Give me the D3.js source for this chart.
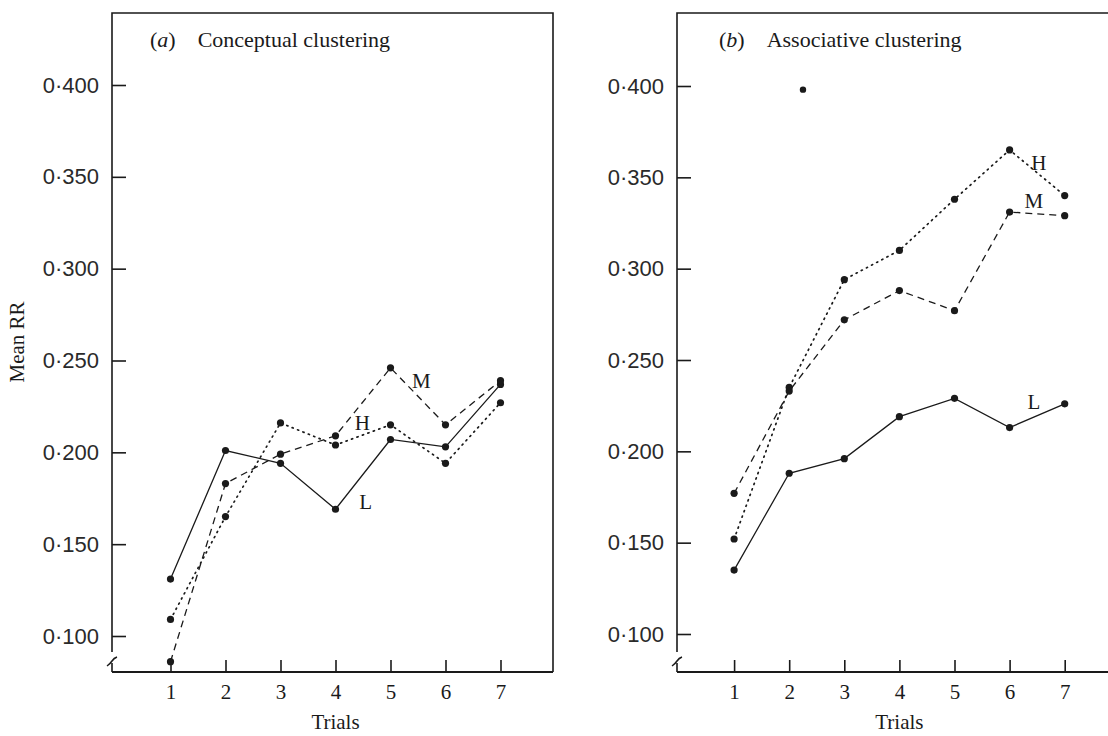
<!DOCTYPE html>
<html>
  <head>
    <title>Mean RR by trial</title>
    <meta charset="UTF-8" />
    <style>
      body { margin: 0; background: #fff; }
      .tick line { stroke: #1a1a1a; stroke-width: 1.6; }
    </style>
  </head>
  <body>
    <script src="https://cdn.jsdelivr.net/npm/d3@7"></script>
    <script>
      // trial numbers and the tick values of the mean RR axis
      var trials = [1, 2, 3, 4, 5, 6, 7];
      var yTicks = [0.100, 0.150, 0.200, 0.250, 0.300, 0.350, 0.400];

      // (a) conceptual clustering
      var conceptualL = [0.131, 0.201, 0.194, 0.169, 0.207, 0.203, 0.237];
      var conceptualM = [0.086, 0.183, 0.199, 0.209, 0.246, 0.215, 0.239];
      var conceptualH = [0.109, 0.165, 0.216, 0.204, 0.215, 0.194, 0.227];

      // (b) associative clustering
      var associativeL = [0.135, 0.188, 0.196, 0.219, 0.229, 0.213, 0.226];
      var associativeM = [0.177, 0.233, 0.272, 0.288, 0.277, 0.331, 0.329];
      var associativeH = [0.152, 0.235, 0.294, 0.310, 0.338, 0.365, 0.340];

      // a lone dot printed in panel (b)
      var associativeStray = [{ trial: 2.25, value: 0.398 }];

      // where the letters L, M, H sit (trial, value)
      var conceptualLabels = [
        { text: "M", trial: 5.56, value: 0.239 },
        { text: "H", trial: 4.49, value: 0.216 },
        { text: "L", trial: 4.55, value: 0.173 }
      ];
      var associativeLabels = [
        { text: "H", trial: 6.53, value: 0.358 },
        { text: "M", trial: 6.44, value: 0.337 },
        { text: "L", trial: 6.44, value: 0.227 }
      ];

      var ink = "#1a1a1a";
      var serif = "'Liberation Serif', 'Times New Roman', serif";
      var sans = "'Liberation Sans', Arial, sans-serif";

      var styles = {
        L: { dash: null, width: 1.3 },
        M: { dash: "7,5", width: 1.3 },
        H: { dash: "1.2,4.6", width: 1.7 }
      };

      var svg = d3.select("body")
                .append("svg")
                .attr("width", 1108)
                .attr("height", 736);

      // y label, shared by both panels
      svg.append("text")
        .attr("transform", "translate(24,342) rotate(-90)")
        .attr("text-anchor", "middle")
        .attr("font-family", serif)
        .attr("font-size", "21px")
        .attr("fill", ink)
        .text("Mean RR");

      function drawPanel(p) {
        var x = d3.scaleLinear().domain([0, 8]).range([p.x0, p.x0 + 8 * p.step]);
        var y = d3.scaleLinear().domain([0.1, 0.4]).range([p.y100, p.y400]);
        var g = svg.append("g");
        var top = 13, bottom = 672;

        // frame: top edge, right edge, bottom axis, left axis with break
        g.append("path")
          .attr("d", "M" + p.axisX + "," + bottom + "V" + (top) + "H" + p.right +
                     (p.right < 1108 ? "V" + bottom : ""))
          .attr("fill", "none").attr("stroke", ink).attr("stroke-width", 1.6);
        g.append("line")
          .attr("x1", p.axisX).attr("x2", p.right)
          .attr("y1", bottom).attr("y2", bottom)
          .attr("stroke", ink).attr("stroke-width", 1.8);
        // white gap + squiggle for the broken axis
        g.append("line")
          .attr("x1", p.axisX).attr("x2", p.axisX)
          .attr("y1", 652).attr("y2", 663)
          .attr("stroke", "#fff").attr("stroke-width", 4);
        g.append("path")
          .attr("d", "M" + (p.axisX - 5) + ",666 q3,-2 5,-5 q2,-3 5,-4")
          .attr("fill", "none").attr("stroke", ink).attr("stroke-width", 1.5);

        // y axis ticks pointing inward
        g.append("g")
          .attr("transform", "translate(" + p.axisX + ",0)")
          .call(d3.axisLeft(y).tickValues(yTicks).tickSize(-14).tickPadding(13)
                  .tickFormat(function(d) { return d3.format(".3f")(d).replace(".", "\u00b7"); }))
          .call(function(a) { a.select(".domain").remove(); })
          .selectAll("text")
            .attr("font-family", sans)
            .attr("font-size", "22px")
            .attr("fill", "#2a2a2a");

        // x axis ticks pointing up
        g.append("g")
          .attr("transform", "translate(0," + bottom + ")")
          .call(d3.axisBottom(x).tickValues(trials).tickSize(-12).tickPadding(12)
                  .tickFormat(d3.format("d")))
          .call(function(a) { a.select(".domain").remove(); })
          .selectAll("text")
            .attr("font-family", serif)
            .attr("font-size", "21px")
            .attr("fill", ink);

        g.append("text")
          .attr("x", x(4)).attr("y", 729)
          .attr("text-anchor", "middle")
          .attr("font-family", serif).attr("font-size", "21px").attr("fill", ink)
          .text("Trials");

        // panel title
        var title = g.append("text")
          .attr("x", p.titleX).attr("y", 47)
          .attr("font-family", serif).attr("font-size", "22px").attr("fill", ink);
        title.append("tspan").text("(");
        title.append("tspan").attr("font-style", "italic").text(p.letter);
        title.append("tspan").text(")\u2003" + p.title);

        var line = d3.line()
          .x(function(d, i) { return x(trials[i]); })
          .y(function(d) { return y(d); });

        p.series.forEach(function(s) {
          var st = styles[s.key];
          g.append("path")
            .datum(s.values)
            .attr("d", line)
            .attr("fill", "none")
            .attr("stroke", ink)
            .attr("stroke-width", st.width)
            .attr("stroke-linecap", s.key === "H" ? "round" : "butt")
            .attr("stroke-dasharray", st.dash);
        });

        p.series.forEach(function(s) {
          g.selectAll(null)
            .data(s.values)
            .enter()
            .append("circle")
            .attr("cx", function(d, i) { return x(trials[i]); })
            .attr("cy", function(d) { return y(d); })
            .attr("r", 3.6)
            .attr("fill", ink);
        });

        g.selectAll(null)
          .data(p.stray)
          .enter()
          .append("circle")
          .attr("cx", function(d) { return x(d.trial); })
          .attr("cy", function(d) { return y(d.value); })
          .attr("r", 3.2)
          .attr("fill", ink);

        g.selectAll(null)
          .data(p.labels)
          .enter()
          .append("text")
          .attr("x", function(d) { return x(d.trial); })
          .attr("y", function(d) { return y(d.value); })
          .attr("dy", "0.35em")
          .attr("text-anchor", "middle")
          .attr("font-family", serif).attr("font-size", "21px").attr("fill", ink)
          .text(function(d) { return d.text; });
      }

      drawPanel({
        letter: "a", title: "Conceptual clustering", titleX: 150,
        axisX: 112, x0: 115.5, step: 55, right: 553, y100: 636, y400: 85,
        series: [
          { key: "L", values: conceptualL },
          { key: "M", values: conceptualM },
          { key: "H", values: conceptualH }
        ],
        stray: [],
        labels: conceptualLabels
      });

      drawPanel({
        letter: "b", title: "Associative clustering", titleX: 719,
        axisX: 677, x0: 679, step: 55.1, right: 1108, y100: 634, y400: 86,
        series: [
          { key: "L", values: associativeL },
          { key: "M", values: associativeM },
          { key: "H", values: associativeH }
        ],
        stray: associativeStray,
        labels: associativeLabels
      });
    </script>
  </body>
</html>
